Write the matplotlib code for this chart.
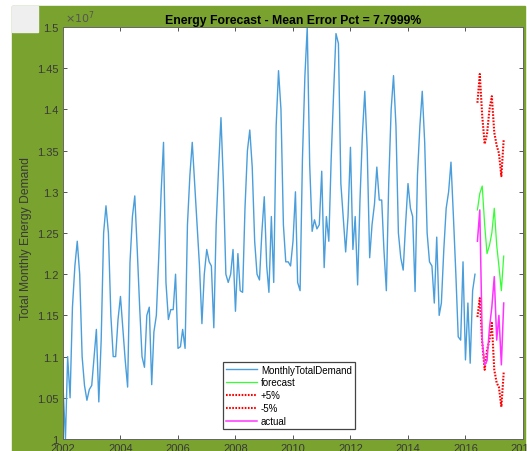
import numpy as np
import pandas as pd
import matplotlib
matplotlib.use("Agg")
import matplotlib.pyplot as plt
import matplotlib.dates as mdates
from matplotlib.patches import Rectangle
from matplotlib.ticker import FuncFormatter

# values, in units of 1e7
demand_start = "2002-01-01"
monthly_total_demand = [
    # 2002
    1.065, 1.000, 1.100, 1.050, 1.160, 1.210, 1.240, 1.200, 1.100, 1.065, 1.047, 1.060,
    # 2003
    1.065, 1.100, 1.133, 1.045, 1.120, 1.250, 1.283, 1.250, 1.150, 1.100, 1.100, 1.145,
    # 2004
    1.173, 1.133, 1.096, 1.063, 1.214, 1.270, 1.295, 1.230, 1.160, 1.100, 1.087, 1.150,
    # 2005
    1.160, 1.066, 1.130, 1.150, 1.220, 1.300, 1.360, 1.190, 1.145, 1.157, 1.157, 1.200,
    # 2006
    1.110, 1.112, 1.133, 1.110, 1.260, 1.320, 1.360, 1.310, 1.260, 1.210, 1.140, 1.200,
    # 2007
    1.230, 1.215, 1.210, 1.135, 1.260, 1.330, 1.390, 1.310, 1.200, 1.190, 1.200, 1.230,
    # 2008
    1.155, 1.225, 1.180, 1.178, 1.280, 1.350, 1.375, 1.330, 1.240, 1.200, 1.193, 1.250,
    # 2009
    1.294, 1.210, 1.178, 1.270, 1.190, 1.380, 1.447, 1.400, 1.260, 1.215, 1.215, 1.210,
    # 2010
    1.240, 1.300, 1.190, 1.180, 1.340, 1.440, 1.500, 1.333, 1.252, 1.266, 1.255, 1.260,
    # 2011
    1.325, 1.208, 1.270, 1.240, 1.340, 1.420, 1.492, 1.480, 1.310, 1.270, 1.227, 1.270,
    # 2012
    1.354, 1.230, 1.270, 1.187, 1.290, 1.370, 1.422, 1.350, 1.220, 1.260, 1.285, 1.330,
    # 2013
    1.290, 1.290, 1.230, 1.180, 1.310, 1.400, 1.441, 1.380, 1.250, 1.220, 1.205, 1.260,
    # 2014
    1.310, 1.280, 1.270, 1.179, 1.320, 1.380, 1.422, 1.360, 1.250, 1.215, 1.210, 1.165,
    # 2015
    1.245, 1.150, 1.165, 1.230, 1.280, 1.300, 1.336, 1.270, 1.200, 1.124, 1.120, 1.215,
    # 2016
    1.096, 1.165, 1.092, 1.180, 1.200,
]

forecast_start = "2016-06-01"
forecast = [1.278, 1.298, 1.307, 1.260, 1.225, 1.235, 1.250, 1.280, 1.235, 1.210, 1.180, 1.222]
plus_5pct = [1.408, 1.443, 1.392, 1.358, 1.370, 1.400, 1.416, 1.372, 1.356, 1.347, 1.319, 1.364]
minus_5pct = [1.148, 1.171, 1.117, 1.084, 1.108, 1.120, 1.141, 1.084, 1.068, 1.063, 1.039, 1.081]
actual = [1.240, 1.278, 1.120, 1.090, 1.095, 1.135, 1.160, 1.197, 1.120, 1.150, 1.090, 1.165]

SCALE = 1e7
title_text = "Energy Forecast - Mean Error Pct = 7.7999%"
ylabel_text = "Total Monthly Energy Demand"

plt.rcParams["font.family"] = ["Liberation Sans", "DejaVu Sans"]

W, H = 527, 452
fig = plt.figure(figsize=(W / 100, H / 100), dpi=100, facecolor="white")
# green figure background and grey corner box
fig.patches.append(Rectangle((12 / W, 0), (525 - 12) / W, (H - 7) / H,
                             transform=fig.transFigure, color="#79a22e", zorder=-2))
fig.patches.append(Rectangle((12 / W, 1 - 33 / H), 26 / W, 26 / H,
                             transform=fig.transFigure, color="#efefef", zorder=-1))

ax = fig.add_axes([63 / W, 1 - 440 / H, (523 - 63) / W, (440 - 28) / H])
ax.set_facecolor("white")

d_demand = pd.date_range(demand_start, periods=len(monthly_total_demand), freq="MS")
d_fc = pd.date_range(forecast_start, periods=len(forecast), freq="MS")

ax.plot(d_demand, np.array(monthly_total_demand) * SCALE, color="#4a9edb", lw=1.0,
        label="MonthlyTotalDemand")
ax.plot(d_fc, np.array(forecast) * SCALE, color="#33ff33", lw=0.9, label="forecast")
ax.plot(d_fc, np.array(plus_5pct) * SCALE, color="red", lw=1.5, ls=(0, (0.8, 0.7)), label="+5%")
ax.plot(d_fc, np.array(minus_5pct) * SCALE, color="red", lw=1.5, ls=(0, (0.8, 0.7)), label="-5%")
ax.plot(d_fc, np.array(actual) * SCALE, color="#ff33ff", lw=1.1, label="actual")

ax.set_xlim(pd.Timestamp("2002-01-01"), pd.Timestamp("2018-01-01"))
ax.set_ylim(1.0e7, 1.5e7)
ax.set_yticks(np.arange(1.0, 1.51, 0.05) * SCALE)
ax.xaxis.set_major_locator(mdates.YearLocator(2))
ax.xaxis.set_major_formatter(mdates.DateFormatter("%Y"))
ax.yaxis.set_major_formatter(FuncFormatter(lambda v, p: f"{v / SCALE:g}"))
ax.text(0.004, 1.004, r"$\times10^{7}$", transform=ax.transAxes, fontsize=8,
        color="#555555", ha="left", va="bottom")

ax.tick_params(direction="in", length=3, width=0.6, labelsize=8, colors="#3a3a3a",
               top=True, right=True, pad=3)
for s in ax.spines.values():
    s.set_color("#666666")
    s.set_linewidth(0.7)

ax.set_ylabel(ylabel_text, fontsize=8.7, color="#3a3a3a")
ax.yaxis.set_label_coords((32 - 63) / 460, 0.49)
ax.set_title(title_text, fontsize=8.8, fontweight="bold", pad=3)

leg = ax.legend(loc="lower left", bbox_to_anchor=(0.348, 0.024), fontsize=7,
                fancybox=False, framealpha=1, edgecolor="#444444", borderaxespad=0,
                handlelength=3.2, borderpad=0.3, labelspacing=0.3, handletextpad=0.4)
leg.get_frame().set_linewidth(0.9)

fig.savefig("out.png", dpi=100, facecolor=fig.get_facecolor())
